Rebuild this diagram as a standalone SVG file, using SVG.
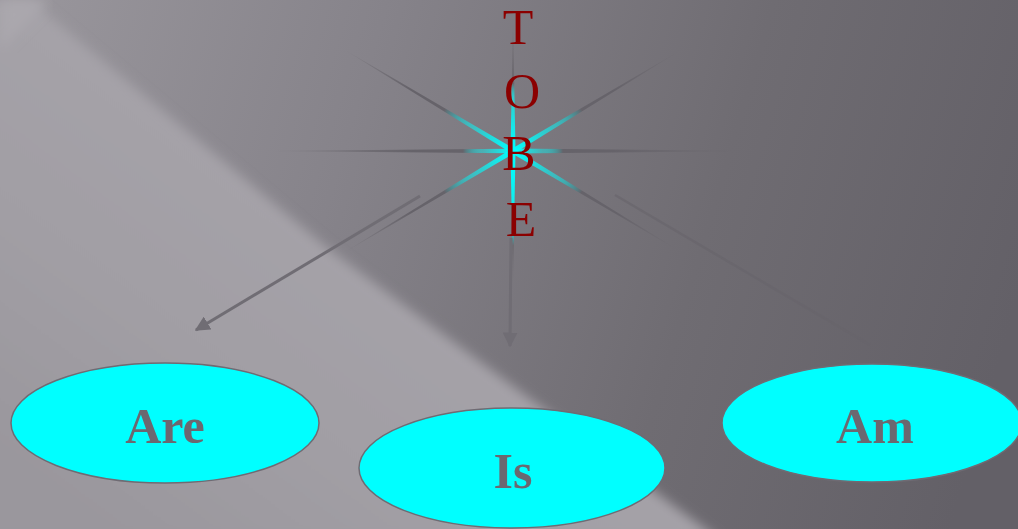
<svg xmlns="http://www.w3.org/2000/svg" width="1018" height="529" viewBox="0 0 1018 529">
<defs>
<linearGradient id="bg" x1="0" y1="0" x2="1018" y2="300" gradientUnits="userSpaceOnUse">
<stop offset="0" stop-color="#9a979d"/>
<stop offset="0.35" stop-color="#86838a"/>
<stop offset="0.7" stop-color="#6f6c72"/>
<stop offset="1" stop-color="#636067"/>
</linearGradient>
<linearGradient id="light" x1="370" y1="265" x2="150" y2="560" gradientUnits="userSpaceOnUse">
<stop offset="0" stop-color="#a5a2a8"/>
<stop offset="0.5" stop-color="#a19ea4"/>
<stop offset="1" stop-color="#9a979d"/>
</linearGradient>
<filter id="soft" x="-5%" y="-5%" width="110%" height="110%"><feGaussianBlur stdDeviation="6"/></filter>
<linearGradient id="rayL" x1="-250" y1="0" x2="250" y2="0" gradientUnits="userSpaceOnUse">
<stop offset="0" stop-color="#6a676d" stop-opacity="0"/>
<stop offset="0.3" stop-color="#66636a"/>
<stop offset="0.4" stop-color="#66636a"/>
<stop offset="0.44" stop-color="#00ffff" stop-opacity="0.4"/>
<stop offset="0.5" stop-color="#00ffff"/>
<stop offset="0.56" stop-color="#00ffff" stop-opacity="0.4"/>
<stop offset="0.6" stop-color="#66636a"/>
<stop offset="0.7" stop-color="#66636a"/>
<stop offset="1" stop-color="#6a676d" stop-opacity="0"/>
</linearGradient>
<linearGradient id="rayD" x1="-200" y1="0" x2="200" y2="0" gradientUnits="userSpaceOnUse">
<stop offset="0" stop-color="#6a676d" stop-opacity="0"/>
<stop offset="0.2" stop-color="#66636a"/>
<stop offset="0.3" stop-color="#66636a"/>
<stop offset="0.38" stop-color="#00ffff" stop-opacity="0.5"/>
<stop offset="0.5" stop-color="#00ffff"/>
<stop offset="0.62" stop-color="#00ffff" stop-opacity="0.5"/>
<stop offset="0.7" stop-color="#66636a"/>
<stop offset="0.8" stop-color="#66636a"/>
<stop offset="1" stop-color="#6a676d" stop-opacity="0"/>
</linearGradient>
<linearGradient id="rayV" x1="0" y1="-135" x2="0" y2="135" gradientUnits="userSpaceOnUse">
<stop offset="0" stop-color="#6a676d" stop-opacity="0"/>
<stop offset="0.25" stop-color="#6a676d"/>
<stop offset="0.3" stop-color="#00ffff" stop-opacity="0.6"/>
<stop offset="0.5" stop-color="#00ffff"/>
<stop offset="0.78" stop-color="#00ffff" stop-opacity="0.8"/>
<stop offset="0.85" stop-color="#6a676d"/>
<stop offset="1" stop-color="#6a676d" stop-opacity="0"/>
</linearGradient>
<marker id="ah" viewBox="0 0 10 10" refX="9" refY="5" markerWidth="5" markerHeight="5" orient="auto" markerUnits="strokeWidth">
<path d="M0,0 L10,5 L0,10 z" fill="#706d74"/>
</marker>
<style>
.conn{fill:none;stroke:#706d74;stroke-width:3}
.faint{fill:none;stroke:#67646b;stroke-width:2.5;stroke-opacity:0.6}
.node ellipse{fill:#00ffff;stroke:#6f6b73;stroke-width:1.5}
.node text{font-family:"Liberation Serif","DejaVu Serif",serif;font-weight:bold;font-size:50px;fill:#6b6870;text-anchor:middle}
.letter{font-family:"Liberation Serif","DejaVu Serif",serif;font-size:50px;fill:#8b0000;text-anchor:middle}
</style>
</defs>
<rect width="1018" height="529" fill="url(#bg)"/>
<g id="background-bands">
<polygon points="-20,0 30,0 330,250 720,540 -20,540" fill="url(#light)" filter="url(#soft)"/>
<polygon points="0,0 50,0 0,50" fill="#aaa7ad" filter="url(#soft)"/>
</g>
<g id="star" transform="translate(513,151)">
<polygon points="-250,0 0,-2.4 250,0 0,2.4" fill="url(#rayL)"/>
<polygon points="-200,0 0,-2.6 200,0 0,2.6" fill="url(#rayD)" transform="rotate(31)"/>
<polygon points="-200,0 0,-2.6 200,0 0,2.6" fill="url(#rayD)" transform="rotate(-31)"/>
<polygon points="0,-135 2.5,0 0,135 -2.5,0" fill="url(#rayV)"/>
</g>
<g id="connectors">
<line class="conn" x1="420" y1="196" x2="196" y2="330" marker-end="url(#ah)"/>
<line class="conn" x1="511" y1="238" x2="510" y2="346" marker-end="url(#ah)"/>
<line class="faint" x1="615" y1="195" x2="870" y2="345"/>
</g>
<g id="label-tobe">
<text class="letter" x="518" y="44">T</text>
<text class="letter" x="522" y="108">O</text>
<text class="letter" x="519" y="170">B</text>
<text class="letter" x="521" y="236">E</text>
</g>
<g id="node-are" class="node">
<ellipse cx="165" cy="423" rx="154" ry="60"/>
<text x="165" y="443">Are</text>
</g>
<g id="node-is" class="node">
<ellipse cx="512" cy="468" rx="153" ry="60"/>
<text x="513" y="488">Is</text>
</g>
<g id="node-am" class="node">
<ellipse cx="872" cy="423" rx="150" ry="59"/>
<text x="875" y="443">Am</text>
</g>
</svg>
